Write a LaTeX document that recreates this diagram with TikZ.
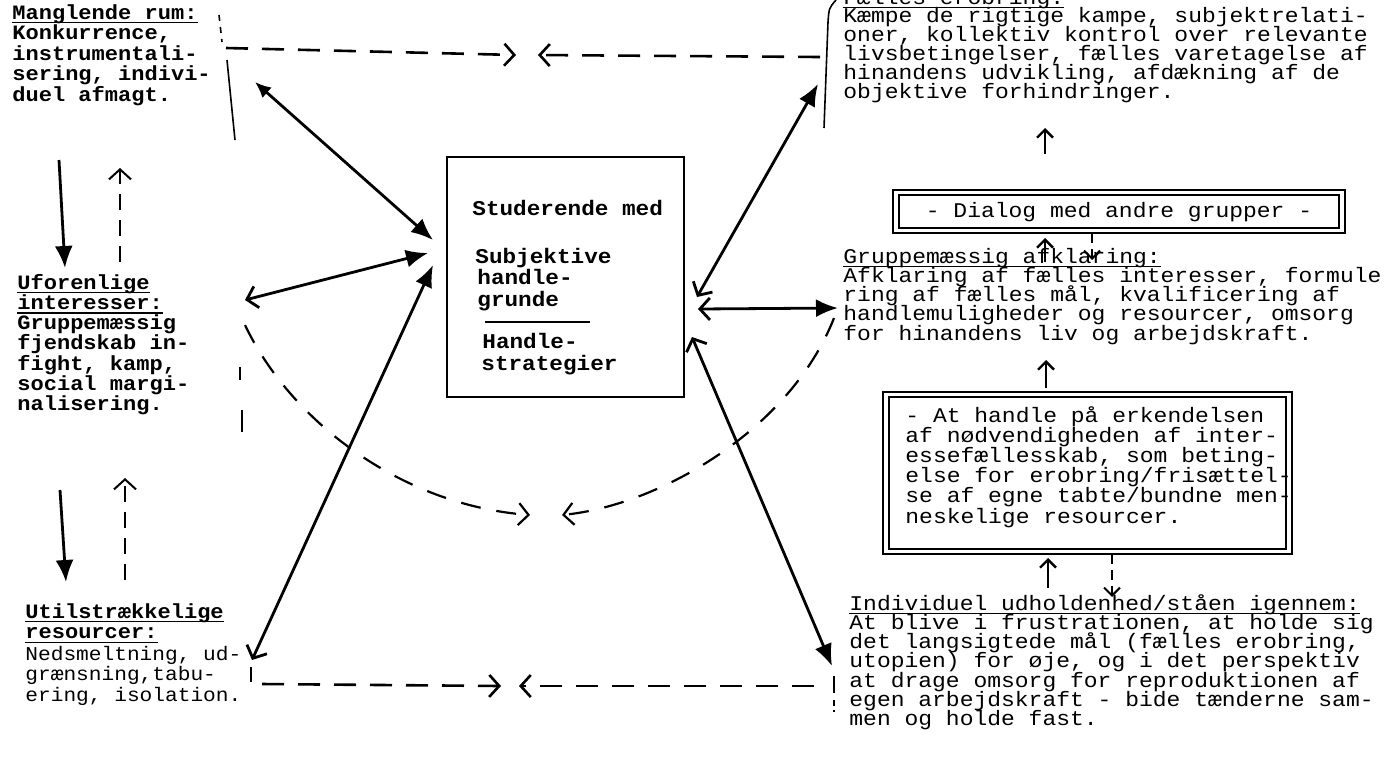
\documentclass[tikz,border=0pt]{standalone}
\usepackage{fontspec}
\newfontfamily\monoR[FakeStretch=1.1]{Liberation Mono}
\newfontfamily\monoL[FakeStretch=1.08]{Liberation Mono}
\usetikzlibrary{arrows.meta}
\newcommand{\txtl}[1]{\vtop{\lineskiplimit=-100pt\lineskip=0pt\let\\\cr\halign{##\hfil\cr#1\crcr}}}
\newcommand{\ulx}[1]{\setbox0=\hbox{#1}\rlap{\vrule height -1.5pt depth 2.1pt width \wd0}\box0}
\tikzset{
  barb/.tip={Straight Barb[length=5pt,width=11pt]},
  bigtip/.tip={Latex[length=11pt,width=9pt]},
  smallbarb/.tip={Straight Barb[length=4pt,width=8pt]},
}
\begin{document}
\begin{tikzpicture}[x=0.5pt,y=-0.5pt,
  ltxt/.style={anchor=base west,inner sep=0pt,font=\fontsize{10.2}{10.25}\selectfont\monoL\bfseries},
  rtxt/.style={anchor=base west,inner sep=0pt,font=\fontsize{10.45}{9.65}\selectfont\monoR},
  ctxt/.style={anchor=base west,inner sep=0pt,font=\fontsize{10.5}{11}\selectfont\monoL\bfseries},
  solidarr/.style={line width=1.4pt},
  dasharr/.style={line width=1.3pt,dash pattern=on 11pt off 7pt},
  curvearr/.style={line width=1.1pt,dash pattern=on 10pt off 8pt},
  smalldash/.style={line width=1pt,dash pattern=on 5pt off 3pt},
  thinline/.style={line width=0.8pt},
  boxframe/.style={line width=1.4pt},
  boxinner/.style={line width=0.6pt},
]
\fill[white] (0,0) rectangle (1390,762);
\useasboundingbox (0,0) rectangle (1390,762);

% ---------- left column ----------
\node[ltxt] (b1) at (12,19) {\txtl{\ulx{Manglende rum:}\\Konkurrence,\\instrumentali-\\sering, indivi-\\duel afmagt.}};
\node[ltxt,font=\fontsize{10.2}{10.15}\selectfont\monoL\bfseries] (b2) at (17,289) {\txtl{\ulx{Uforenlige}\\\ulx{interesser:}\\Gruppemæssig\\fjendskab in-\\fight, kamp,\\social margi-\\nalisering.}};
\node[ltxt] (b3h) at (25,618) {\txtl{\ulx{Utilstrækkelige}\\\ulx{resourcer:}}};
\node[ltxt,font=\fontsize{9.8}{10.3}\selectfont\monoL] (b3) at (25,660) {\txtl{Nedsmeltning, ud-\\grænsning,tabu-\\ering, isolation.}};

% bracket marks beside block 1
\draw[thinline,dash pattern=on 3pt off 3pt] (219,15) -- (222,42);
\draw[thinline] (227,60) -- (235,140);
\draw[thinline] (240,367) -- (240,380);
\draw[thinline] (242,410) -- (242,432);
\draw[thinline] (251,667) -- (251,682);

% vertical arrows in the left column
\coordinate (aS) at (59,160); \coordinate (aE) at (65,268);
\coordinate (bS) at (120,262); \coordinate (bE) at (120,168);
\coordinate (cS) at (60,490); \coordinate (cE) at (66,582);
\coordinate (dS) at (125,580); \coordinate (dE) at (125,478);
\draw[solidarr,-bigtip] (aS) -- (aE);
\draw[line width=1pt,dash pattern=on 8pt off 5pt,-barb] (bS) -- (bE);
\draw[solidarr,-bigtip] (cS) -- (cE);
\draw[line width=1pt,dash pattern=on 8pt off 5pt,-barb] (dS) -- (dE);

% ---------- centre box ----------
\draw[line width=1.1pt] (447,157) rectangle (684,397);
\coordinate (boxL1) at (433,240);
\coordinate (boxL2) at (428,253);
\coordinate (boxL3) at (433,265);
\coordinate (boxR1) at (697,297);
\coordinate (boxR2) at (698,309);
\coordinate (boxR3) at (692,337);
\node[ctxt] (c1) at (472,215) {Studerende med};
\node[ctxt] (c2) at (475,263) {Subjektive};
\node[ctxt] (c3) at (477,284) {handle-};
\node[ctxt] (c4) at (477,306) {grunde};
\draw[line width=1pt] (485,322) -- (590,322);
\node[ctxt] (c5) at (482,348) {Handle-};
\node[ctxt] (c6) at (481,370) {strategier};

% ---------- right column ----------
\node[rtxt,font=\fontsize{10.45}{9.45}\selectfont\monoR] (r1) at (843,4) {\txtl{\ulx{Fælles erobring:}\\Kæmpe de rigtige kampe, subjektrelati-\\oner, kollektiv kontrol over relevante\\livsbetingelser, fælles varetagelse af\\hinandens udvikling, afdækning af de\\objektive forhindringer.}};
\draw[thinline] (836,0) .. controls (829,8) .. (828,22) -- (824,128);

% dialog box
\draw[boxframe] (893,190) rectangle (1345,233);
\draw[boxinner] (899,195) rectangle (1339,228);
\node[rtxt,anchor=base] (dlg) at (1119,217) {- Dialog med andre grupper -};

\node[rtxt] (r2) at (843,263) {\txtl{\ulx{Gruppemæssig afklaring:}\\Afklaring af fælles interesser, formule\\ring af fælles mål, kvalificering af\\handlemuligheder og resourcer, omsorg\\for hinandens liv og arbejdskraft.}};

% action box
\draw[boxframe] (883,392) rectangle (1292,554);
\draw[boxinner] (889,397) rectangle (1286,549);
\node[rtxt,font=\fontsize{10.45}{10.1}\selectfont\monoR] (act) at (905,422) {\txtl{- At handle på erkendelsen\\af nødvendigheden af inter-\\essefællesskab, som beting-\\else for erobring/frisættel-\\se af egne tabte/bundne men-\\neskelige resourcer.}};

\node[rtxt] (r3) at (849,610) {\txtl{\ulx{Individuel udholdenhed/ståen igennem:}\\At blive i frustrationen, at holde sig\\det langsigtede mål (fælles erobring,\\utopien) for øje, og i det perspektiv\\at drage omsorg for reproduktionen af\\egen arbejdskraft - bide tænderne sam-\\men og holde fast.}};
\draw[thinline] (834,676) -- (834,693);
\draw[thinline,dash pattern=on 3pt off 2pt] (834,700) -- (834,712);

% small vertical arrows on the right
\coordinate (u1S) at (1045,154); \coordinate (u1E) at (1045,128);
\coordinate (u2S) at (1045,262); \coordinate (u2E) at (1045,238);
\coordinate (v2S) at (1092,233); \coordinate (v2E) at (1092,260);
\coordinate (u3S) at (1046,388); \coordinate (u3E) at (1046,360);
\coordinate (u4S) at (1048,588); \coordinate (u4E) at (1048,558);
\coordinate (v4S) at (1112,554); \coordinate (v4E) at (1112,597);
\draw[line width=1.2pt,-smallbarb] (u1S) -- (u1E);
\draw[line width=1.2pt,-smallbarb] (u2S) -- (u2E);
\draw[smalldash,-smallbarb] (v2S) -- (v2E);
\draw[line width=1.2pt,-smallbarb] (u3S) -- (u3E);
\draw[line width=1.2pt,-smallbarb] (u4S) -- (u4E);
\draw[smalldash,-smallbarb] (v4S) -- (v4E);

% ---------- arrows between blocks and centre box ----------
\coordinate (l1) at (255,82);
\coordinate (l2) at (245,300);
\coordinate (l3) at (252,660);
\coordinate (rt1) at (818,84);
\coordinate (rt2) at (838,308);
\coordinate (rt3) at (832,666);
\draw[solidarr,{Latex[length=8pt,width=7pt]}-bigtip] (l1) -- (boxL1);
\draw[solidarr,barb-bigtip] (l2) -- (boxL2);
\draw[solidarr,barb-bigtip] (l3) -- (boxL3);
\draw[solidarr,barb-bigtip] (boxR1) -- (rt1);
\draw[solidarr,barb-bigtip] (boxR2) -- (rt2);
\draw[solidarr,barb-bigtip] (boxR3) -- (rt3);

% ---------- dashed connectors ----------
\coordinate (tL) at (226,48); \coordinate (tM1) at (516,55);
\coordinate (tR) at (820,57); \coordinate (tM2) at (538,55);
\draw[dasharr,-barb] (tL) -- (tM1);
\draw[dasharr,-barb] (tR) -- (tM2);
\coordinate (bL) at (262,684); \coordinate (bM1) at (501,686);
\coordinate (bR) at (814,686); \coordinate (bM2) at (519,686);
\draw[dasharr,-barb] (bL) -- (bM1);
\draw[dasharr,-barb] (bR) -- (bM2);
\coordinate (cvL) at (245,325); \coordinate (cvM1) at (530,515);
\coordinate (cvR) at (834,318); \coordinate (cvM2) at (562,515);
\draw[curvearr,-barb] (cvL) .. controls (290,420) and (400,505) .. (cvM1);
\draw[curvearr,-barb] (cvR) .. controls (790,430) and (660,505) .. (cvM2);
\end{tikzpicture}
\end{document}
